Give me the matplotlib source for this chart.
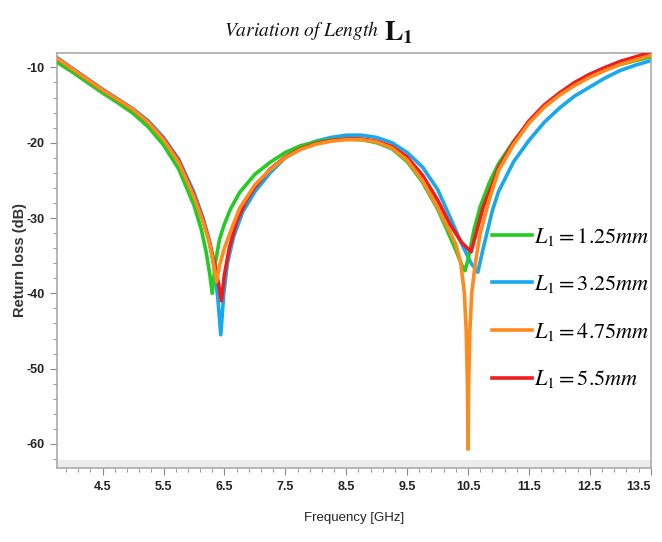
import matplotlib
matplotlib.use('Agg')
import matplotlib.pyplot as plt
from matplotlib import font_manager
from matplotlib.ticker import FixedLocator
import numpy as np

# Return loss curves (frequency in GHz, value in dB)
f_125 = [3.75, 4.0, 4.25, 4.5, 4.75, 5.0, 5.25, 5.5, 5.75, 6.0, 6.12, 6.2, 6.26, 6.30,
         6.35, 6.42, 6.5, 6.6, 6.75, 7.0, 7.25, 7.5, 7.75, 8.0, 8.25, 8.5, 8.75, 9.0,
         9.25, 9.5, 9.75, 10.0, 10.15, 10.3, 10.4, 10.45, 10.5, 10.6, 10.7, 10.85, 11.0,
         11.25, 11.5, 11.75, 12.0, 12.25, 12.5, 12.75, 13.0, 13.25, 13.5]
s_125 = [-9.3, -10.6, -12.0, -13.4, -14.7, -16.1, -17.9, -20.3, -23.5, -28.3, -31.5, -34.5, -37.5, -40.0,
         -36.0, -32.8, -30.8, -28.8, -26.6, -24.2, -22.6, -21.3, -20.4, -19.9, -19.6, -19.5, -19.6, -20.0,
         -20.8, -22.5, -25.2, -28.8, -31.5, -34.3, -36.3, -37.0, -35.5, -31.5, -28.5, -25.3, -22.8,
         -19.8, -17.3, -15.2, -13.6, -12.3, -11.2, -10.3, -9.6, -9.1, -8.6]

f_325 = [3.75, 4.0, 4.25, 4.5, 4.75, 5.0, 5.25, 5.5, 5.75, 6.0, 6.15, 6.25, 6.33, 6.39, 6.44,
         6.49, 6.55, 6.65, 6.8, 7.0, 7.25, 7.5, 7.75, 8.0, 8.25, 8.5, 8.75, 9.0, 9.25, 9.5,
         9.75, 10.0, 10.2, 10.4, 10.55, 10.66, 10.75, 10.9, 11.0, 11.25, 11.5, 11.75, 12.0,
         12.25, 12.5, 12.75, 13.0, 13.25, 13.5]
s_325 = [-8.7, -10.1, -11.5, -12.9, -14.2, -15.5, -17.1, -19.3, -22.2, -26.6, -30.0, -33.0, -36.5, -40.5, -45.5,
         -40.0, -36.0, -32.5, -29.2, -26.5, -24.0, -22.0, -20.6, -19.8, -19.3, -19.0, -19.0, -19.3, -20.0, -21.3,
         -23.2, -26.2, -29.8, -33.5, -36.0, -37.2, -34.0, -29.0, -26.5, -22.5, -19.7, -17.3, -15.4,
         -13.8, -12.6, -11.4, -10.4, -9.7, -9.1]

f_475 = [3.75, 4.0, 4.25, 4.5, 4.75, 5.0, 5.25, 5.5, 5.75, 6.0, 6.15, 6.25, 6.32, 6.37, 6.42,
         6.5, 6.6, 6.75, 7.0, 7.25, 7.5, 7.75, 8.0, 8.25, 8.5, 8.75, 9.0, 9.25, 9.5, 9.75,
         10.0, 10.15, 10.3, 10.38, 10.44, 10.47, 10.49, 10.5, 10.51, 10.53, 10.56, 10.62,
         10.7, 10.85, 11.0, 11.25, 11.5, 11.75, 12.0, 12.25, 12.5, 12.75, 13.0, 13.25, 13.5]
s_475 = [-8.8, -10.2, -11.6, -13.0, -14.3, -15.6, -17.3, -19.6, -22.6, -27.2, -30.5, -33.2, -36.0, -38.5, -36.3,
         -34.0, -31.8, -28.7, -25.6, -23.6, -22.0, -20.9, -20.2, -19.8, -19.6, -19.6, -19.9, -20.7, -22.3, -25.0,
         -28.6, -31.0, -33.5, -36.0, -40.0, -45.0, -52.0, -60.7, -52.0, -45.0, -40.0, -36.0,
         -32.0, -27.5, -23.7, -20.2, -17.4, -15.3, -13.7, -12.4, -11.3, -10.4, -9.6, -9.0, -8.4]

f_55 = [3.75, 4.0, 4.25, 4.5, 4.75, 5.0, 5.25, 5.5, 5.75, 6.0, 6.15, 6.25, 6.33, 6.4, 6.45,
        6.5, 6.58, 6.7, 6.85, 7.0, 7.25, 7.5, 7.75, 8.0, 8.25, 8.5, 8.75, 9.0, 9.25, 9.5,
        9.75, 10.0, 10.2, 10.4, 10.55, 10.65, 10.75, 10.9, 11.0, 11.25, 11.5, 11.75, 12.0,
        12.25, 12.5, 12.75, 13.0, 13.25, 13.5]
s_55 = [-8.8, -10.2, -11.6, -13.0, -14.3, -15.6, -17.3, -19.5, -22.4, -27.0, -30.3, -33.0, -35.8, -38.6, -41.0,
        -37.5, -34.0, -30.5, -27.8, -25.9, -23.5, -21.9, -20.8, -20.1, -19.7, -19.5, -19.5, -19.8, -20.5, -21.9,
        -24.3, -27.6, -30.8, -33.3, -34.5, -31.5, -28.5, -25.5, -23.3, -19.9, -17.1, -15.0, -13.4,
        -12.0, -10.9, -10.0, -9.2, -8.6, -8.0]

labels = [r'$L_1 = 1.25mm$', r'$L_1 = 3.25mm$', r'$L_1 = 4.75mm$', r'$L_1 = 5.5mm$']
colors = ['#22cc22', '#18a8f0', '#ff8a1e', '#ee1c1c']

x_ticks = [4.5, 5.5, 6.5, 7.5, 8.5, 9.5, 10.5, 11.5, 12.5, 13.5]
y_ticks = [-10, -20, -30, -40, -50, -60]

names = {f.name for f in font_manager.fontManager.ttflist}
narrow = 'Liberation Sans Narrow' if 'Liberation Sans Narrow' in names else 'Liberation Sans'

plt.rcParams['axes.unicode_minus'] = False
plt.rcParams['mathtext.fontset'] = 'stix'

fig = plt.figure(figsize=(6.62, 5.42), dpi=100)
ax = fig.add_axes([0.086, 0.1365, 0.897, 0.7655])

series = [(f_125, s_125), (f_325, s_325), (f_475, s_475), (f_55, s_55)]
zorders = [3, 2, 5, 4]
for (fx, sy), lab, col, z in zip(series, labels, colors, zorders):
    ax.plot(fx, sy, color=col, lw=2.6, label=lab, zorder=z, solid_joinstyle='round')

ax.set_xlim(3.75, 13.5)
ax.set_ylim(-63.2, -8.1)
ax.axhspan(-63.2, -62.2, color='#ececec', zorder=1, lw=0)

ax.set_xticks(x_ticks)
ax.set_xticklabels([f'{v:g}' for v in x_ticks])
ax.xaxis.set_minor_locator(FixedLocator(np.arange(3.9, 13.6, 0.2)))
ax.set_yticks(y_ticks)
ax.yaxis.set_minor_locator(FixedLocator(np.arange(-62, -8, 2)))
ax.tick_params(axis='both', which='major', length=5, color='#888888', labelsize=9, pad=4)
ax.tick_params(axis='both', which='minor', length=3, color='#888888')
for t in ax.get_xticklabels() + ax.get_yticklabels():
    t.set_fontfamily(narrow)
    t.set_fontweight('bold')
    t.set_color('#222222')
# keep the last label inside the picture
ax.get_xticklabels()[-1].set_horizontalalignment('right')
ax.get_xticklabels()[-1].set_x(13.62)

for sp in ax.spines.values():
    sp.set_color('#aaaaaa')
    sp.set_linewidth(1.2)

ax.set_xlabel('Frequency [GHz]', family=narrow, fontsize=9.5, color='#222222', labelpad=14)
fig.text(0.03, 0.52, 'Return loss (dB)', rotation=90, ha='center', va='center',
         fontsize=10.5, fontweight='bold', color='#333333', family='Liberation Sans')

fig.text(0.455, 0.943, r'$\mathit{Variation\ of\ Length}$', ha='center', va='center',
         fontsize=14, color='#111111')
fig.text(0.58, 0.94, r'$\mathbf{L_1}$', ha='left', va='center', fontsize=20, color='#111111')

leg = fig.legend(loc='upper right', bbox_to_anchor=(0.995, 0.6), frameon=False,
                 fontsize=16, handlelength=1.8, handletextpad=0.1, labelspacing=1.15, borderaxespad=0)

fig.savefig('out.png', dpi=100)
